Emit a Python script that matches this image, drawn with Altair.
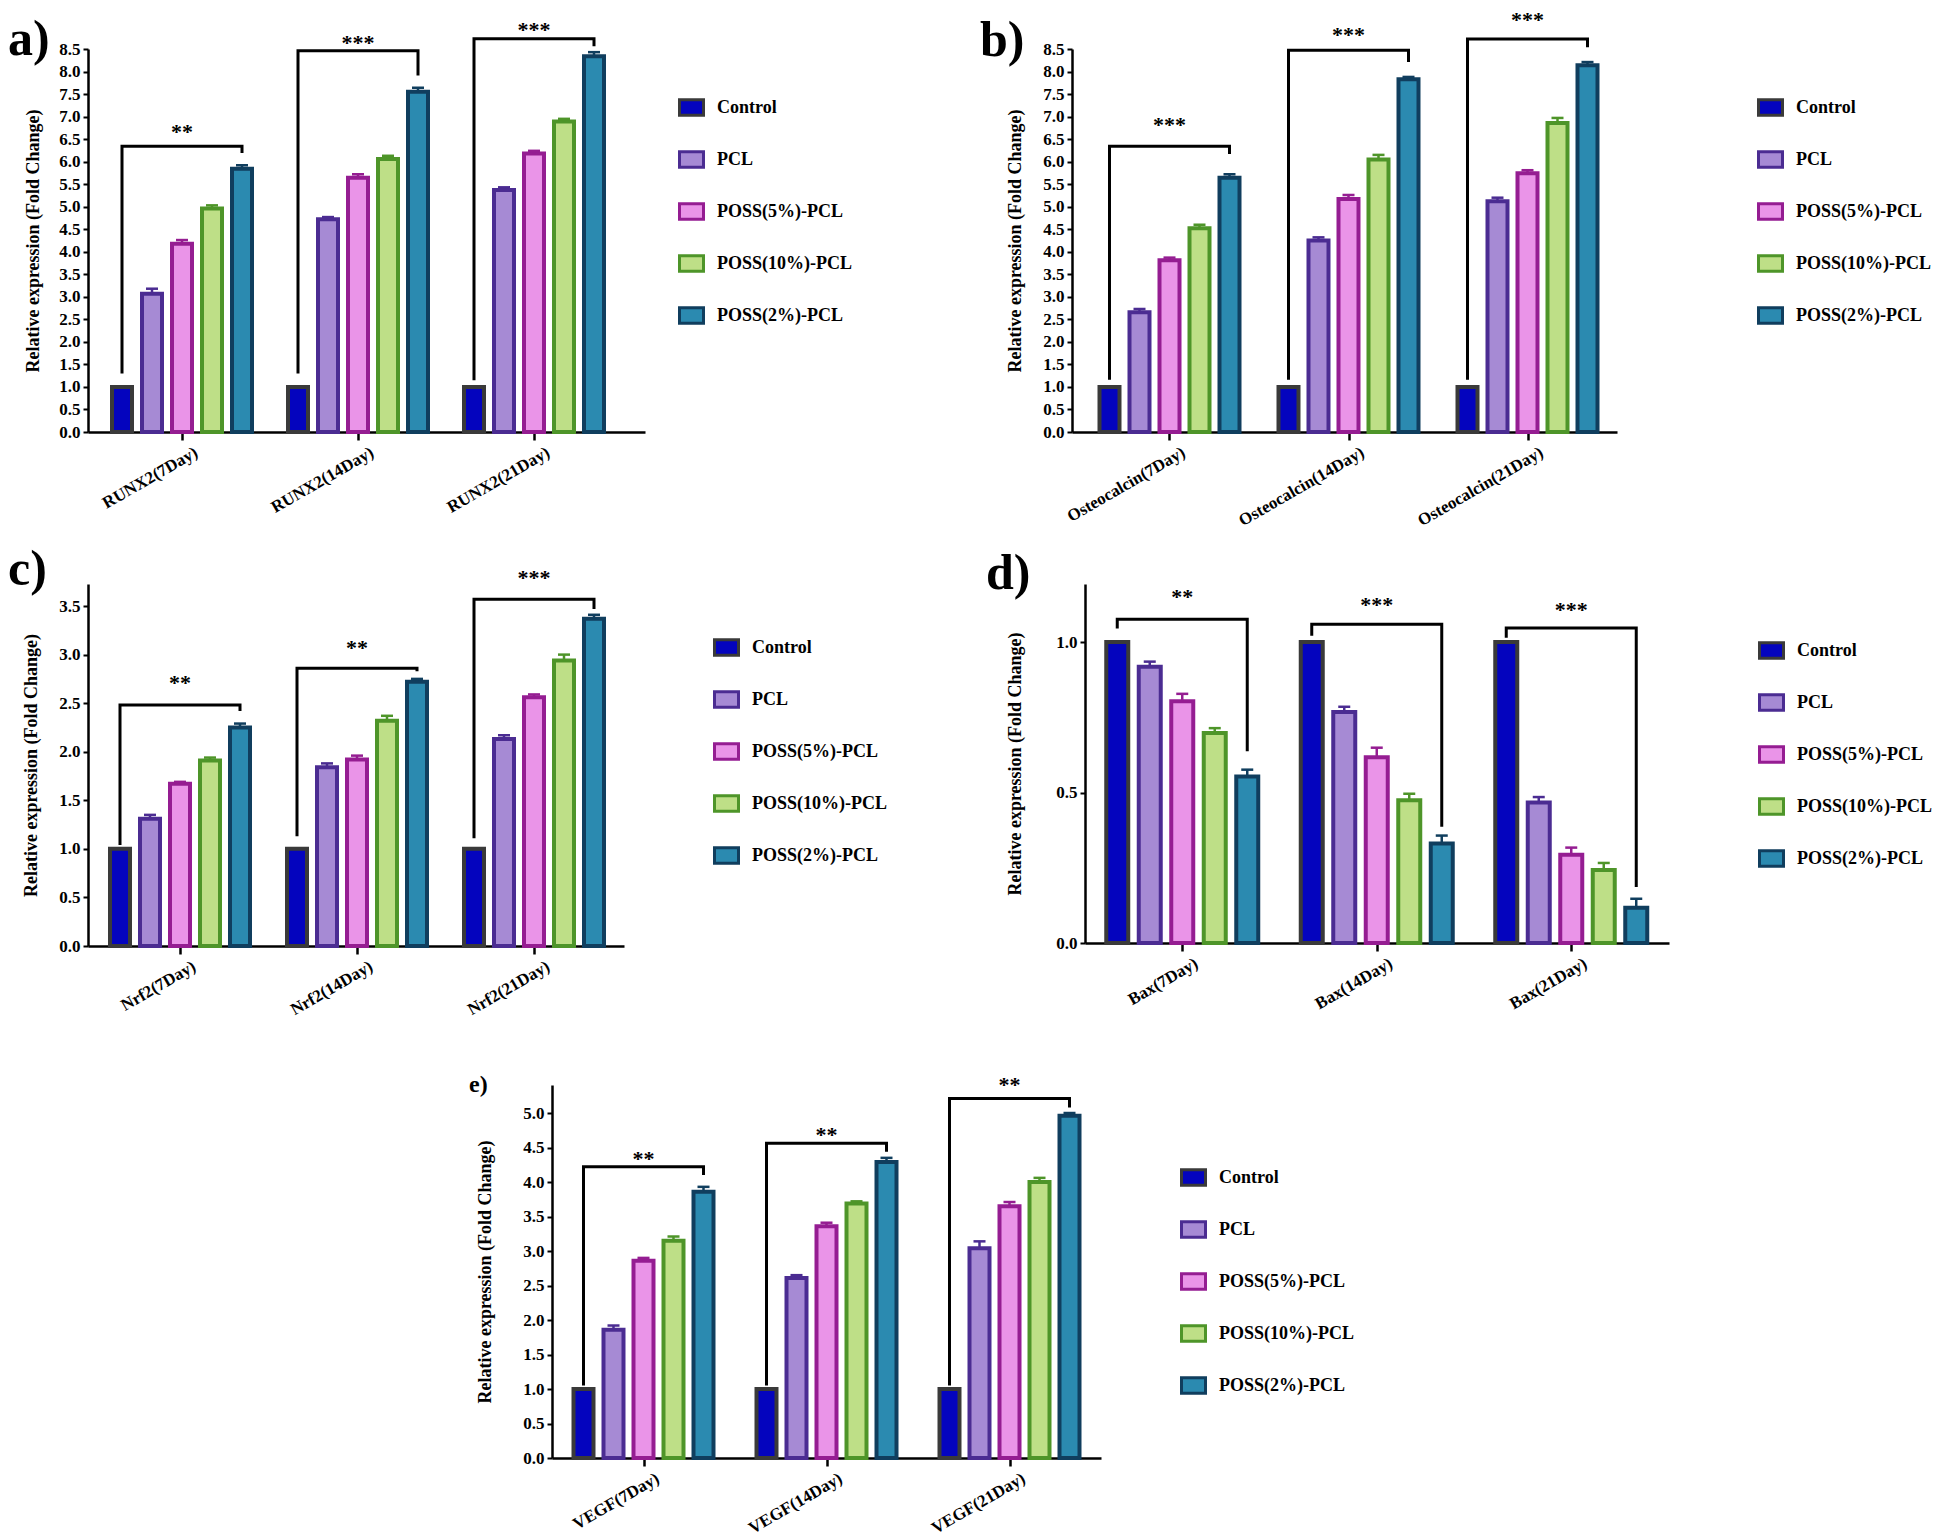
import altair as alt
import pandas as pd

FONT = "Liberation Serif"

groups = ["Control", "PCL", "POSS(5%)-PCL", "POSS(10%)-PCL", "POSS(2%)-PCL"]
fill_colors = ["#0404BE", "#A68AD4", "#EA94E8", "#BEDF87", "#2B8AB0"]
stroke_colors = ["#3A3A3A", "#4B2C92", "#951D92", "#4E9529", "#103E5E"]
y_title = "Relative expression (Fold Change)"

# a) RUNX2
runx2_days = ["RUNX2(7Day)", "RUNX2(14Day)", "RUNX2(21Day)"]
runx2_mean = [[1.0, 3.07, 4.18, 4.96, 5.84], [1.0, 4.72, 5.64, 6.06, 7.55], [1.0, 5.37, 6.18, 6.89, 8.34]]
runx2_err = [[0, 0.11, 0.08, 0.07, 0.08], [0, 0.05, 0.08, 0.07, 0.09], [0, 0.06, 0.06, 0.06, 0.09]]
runx2_br_low = [1.30, 1.30, 1.15]
runx2_br_top = [6.34, 8.46, 8.73]
runx2_br_end = [6.19, 7.91, 8.56]
runx2_stars = ["**", "***", "***"]
runx2_star_y = [6.66, 8.63, 8.93]

# b) Osteocalcin
ocn_days = ["Osteocalcin(7Day)", "Osteocalcin(14Day)", "Osteocalcin(21Day)"]
ocn_mean = [[1.0, 2.66, 3.81, 4.52, 5.64], [1.0, 4.25, 5.17, 6.05, 7.83], [1.0, 5.12, 5.74, 6.86, 8.14]]
ocn_err = [[0, 0.07, 0.06, 0.08, 0.08], [0, 0.07, 0.09, 0.10, 0.05], [0, 0.08, 0.07, 0.11, 0.07]]
ocn_br_low = [1.16, 1.16, 1.16]
ocn_br_top = [6.34, 8.47, 8.72]
ocn_br_end = [6.17, 8.21, 8.54]
ocn_stars = ["***", "***", "***"]
ocn_star_y = [6.82, 8.81, 9.15]

# c) Nrf2
nrf2_days = ["Nrf2(7Day)", "Nrf2(14Day)", "Nrf2(21Day)"]
nrf2_mean = [[1.0, 1.31, 1.67, 1.91, 2.25], [1.0, 1.84, 1.92, 2.32, 2.72], [1.0, 2.13, 2.56, 2.94, 3.37]]
nrf2_err = [[0, 0.04, 0.02, 0.03, 0.04], [0, 0.04, 0.04, 0.05, 0.03], [0, 0.04, 0.03, 0.06, 0.04]]
nrf2_br_low = [1.04, 1.13, 1.11]
nrf2_br_top = [2.48, 2.86, 3.57]
nrf2_br_end = [2.42, 2.83, 3.47]
nrf2_stars = ["**", "**", "***"]
nrf2_star_y = [2.71, 3.07, 3.79]

# d) Bax
bax_days = ["Bax(7Day)", "Bax(14Day)", "Bax(21Day)"]
bax_mean = [[1.0, 0.918, 0.803, 0.698, 0.553], [1.0, 0.768, 0.617, 0.474, 0.331], [1.0, 0.467, 0.293, 0.243, 0.117]]
bax_err = [[0, 0.017, 0.025, 0.016, 0.023], [0, 0.017, 0.032, 0.022, 0.026], [0, 0.018, 0.024, 0.023, 0.030]]
bax_br_low = [1.045, 1.021, 1.014]
bax_br_top = [1.076, 1.059, 1.047]
bax_br_end = [0.637, 0.386, 0.186]
bax_stars = ["**", "***", "***"]
bax_star_y = [1.151, 1.122, 1.108]

# e) VEGF
vegf_days = ["VEGF(7Day)", "VEGF(14Day)", "VEGF(21Day)"]
vegf_mean = [[1.0, 1.86, 2.86, 3.15, 3.86], [1.0, 2.61, 3.36, 3.69, 4.29], [1.0, 3.04, 3.65, 4.00, 4.96]]
vegf_err = [[0, 0.06, 0.04, 0.06, 0.07], [0, 0.04, 0.05, 0.03, 0.06], [0, 0.10, 0.06, 0.06, 0.04]]
vegf_br_low = [1.05, 1.05, 1.05]
vegf_br_top = [4.22, 4.56, 5.21]
vegf_br_end = [4.10, 4.44, 5.08]
vegf_stars = ["**", "**", "**"]
vegf_star_y = [4.34, 4.68, 5.41]


def make_panel(letter, days, mean, err, br_low, br_top, br_end, stars, star_y,
               W, H, S, lpad, bstep, bw, ymax, ytop, tpad, leg_x, leg_y,
               lab_dx, lab_off, lab_size=50):
    dmin = -0.5 - lpad / S
    dmax = dmin + W / S
    half = bw / 2.0 / S
    cap = 6.0 / S
    off = bstep / S

    rows = []
    for i, d in enumerate(days):
        for j, g in enumerate(groups):
            c = i + (j - 2) * off
            rows.append(dict(day=d, group=g, x0=c - half, x1=c + half, xc=c,
                             cl=c - cap, cr=c + cap, v=mean[i][j],
                             top=mean[i][j] + err[i][j], e=err[i][j], base=0.0))
    df = pd.DataFrame(rows)

    brows = []
    for i, d in enumerate(days):
        xl = i - 2 * off
        xr = i + 2 * off
        pts = [(xl, br_low[i]), (xl, br_top[i]), (xr, br_top[i]), (xr, br_end[i])]
        for k, (px, py) in enumerate(pts):
            brows.append(dict(day=d, k=k, bx=px, by=py))
    bdf = pd.DataFrame(brows)

    sdf = pd.DataFrame(dict(day=days, sx=list(range(len(days))), sy=star_y, star=stars))

    n_ticks = int(round(ytop / 0.5)) + 1
    yticks = [round(k * 0.5, 1) for k in range(n_ticks)]
    label_expr = "[" + ",".join("'" + d + "'" for d in days) + "][datum.value]"

    xs = alt.Scale(domain=[dmin, dmax], nice=False, zero=False)
    ys = alt.Scale(domain=[0, ymax], nice=False, zero=True)
    xax = alt.Axis(values=[0, 1, 2], labelExpr=label_expr, title=None, grid=False,
                   tickSize=8, tickWidth=2.5, tickColor="black", domainColor="black",
                   domainWidth=2.5, labelAngle=-30, labelFont=FONT, labelFontSize=17,
                   labelFontWeight="bold", labelColor="black", labelPadding=4,
                   labelOffset=10, labelOverlap=False, labelFlush=False)
    yax = alt.Axis(values=yticks, format=".1f", title=y_title, grid=False,
                   tickSize=5, tickWidth=2, tickColor="black", domainColor="black",
                   domainWidth=2.5, labelFont=FONT, labelFontSize=17,
                   labelFontWeight="bold", labelColor="black", labelPadding=3,
                   labelFlush=False, labelOverlap=False,
                   titleFont=FONT, titleFontSize=18, titleFontWeight="bold",
                   titleColor="black", titlePadding=tpad)
    leg = alt.Legend(title=None, orient="none", legendX=leg_x, legendY=leg_y,
                     direction="vertical", symbolType="M-1,-0.65H1V0.65H-1Z",
                     symbolSize=576, symbolStrokeWidth=3, labelFont=FONT,
                     labelFontSize=18, labelFontWeight="bold", labelColor="black",
                     rowPadding=23, labelOffset=12, padding=0)
    fill_enc = alt.Fill("group:N", scale=alt.Scale(domain=groups, range=fill_colors), legend=leg)
    stroke_enc = alt.Stroke("group:N", scale=alt.Scale(domain=groups, range=stroke_colors), legend=leg)

    def X(f):
        return alt.X(f, scale=xs, axis=xax)

    def Y(f):
        return alt.Y(f, scale=ys, axis=yax)

    bars = alt.Chart(df).mark_rect(strokeWidth=4).encode(
        x=X("x0:Q"), x2="x1:Q", y=Y("v:Q"), y2="base:Q", fill=fill_enc, stroke=stroke_enc)
    err_v = alt.Chart(df).transform_filter("datum.e > 0").mark_rule(strokeWidth=2.5).encode(
        x=X("xc:Q"), y=Y("v:Q"), y2="top:Q", stroke=stroke_enc)
    err_c = alt.Chart(df).transform_filter("datum.e > 0").mark_rule(strokeWidth=2.5).encode(
        x=X("cl:Q"), x2="cr:Q", y=Y("top:Q"), stroke=stroke_enc)
    brk = alt.Chart(bdf).mark_line(color="black", strokeWidth=3, strokeJoin="miter").encode(
        x=X("bx:Q"), y=Y("by:Q"), order="k:Q", detail="day:N")
    st = alt.Chart(sdf).mark_text(font=FONT, fontSize=22, fontWeight="bold",
                                   baseline="middle", color="black").encode(
        x=X("sx:Q"), y=Y("sy:Q"), text="star:N")

    return alt.layer(bars, err_v, err_c, brk, st).properties(
        width=W, height=H,
        title=alt.TitleParams(letter, anchor="start", frame="group", orient="top",
                              font=FONT, fontSize=lab_size, fontWeight="bold",
                              color="black", baseline="alphabetic", offset=lab_off,
                              dx=lab_dx))


pa = make_panel("a)", runx2_days, runx2_mean, runx2_err, runx2_br_low, runx2_br_top,
                runx2_br_end, runx2_stars, runx2_star_y,
                W=557, H=383, S=176, lpad=6, bstep=30, bw=20, ymax=8.5, ytop=8.5,
                tpad=16, leg_x=590, leg_y=45, lab_dx=-80, lab_off=-86)
pb = make_panel("b)", ocn_days, ocn_mean, ocn_err, ocn_br_low, ocn_br_top,
                ocn_br_end, ocn_stars, ocn_star_y,
                W=545, H=383, S=179, lpad=8, bstep=30, bw=20, ymax=8.5, ytop=8.5,
                tpad=18, leg_x=685, leg_y=45, lab_dx=-92, lab_off=-97)
pc = make_panel("c)", nrf2_days, nrf2_mean, nrf2_err, nrf2_br_low, nrf2_br_top,
                nrf2_br_end, nrf2_stars, nrf2_star_y,
                W=536, H=362, S=177, lpad=3.5, bstep=30, bw=20, ymax=3.727, ytop=3.5,
                tpad=18, leg_x=625, leg_y=50, lab_dx=-80, lab_off=-68)
pd_ = make_panel("d)", bax_days, bax_mean, bax_err, bax_br_low, bax_br_top,
                 bax_br_end, bax_stars, bax_star_y,
                 W=584, H=359, S=194.5, lpad=0, bstep=32.5, bw=22, ymax=1.193, ytop=1.0,
                 tpad=31, leg_x=673, leg_y=53, lab_dx=-99, lab_off=-55)
pe = make_panel("e)", vegf_days, vegf_mean, vegf_err, vegf_br_low, vegf_br_top,
                vegf_br_end, vegf_stars, vegf_star_y,
                W=549, H=373, S=183, lpad=0, bstep=30, bw=20, ymax=5.406, ytop=5.0,
                tpad=28, leg_x=628, leg_y=79, lab_dx=-83, lab_off=-42, lab_size=24)

spacer = alt.Chart(pd.DataFrame({"v": [0]})).mark_point(opacity=0).encode(
    x=alt.X("v:Q", axis=None), y=alt.Y("v:Q", axis=None)).properties(width=454, height=10)


def indep(c):
    return c.resolve_scale(x="independent", y="independent", fill="independent",
                           stroke="independent").resolve_legend(fill="independent",
                                                                stroke="independent")


# with flush bounds, nested rows count as zero-size, so the spacing is top-to-top
row1 = indep(alt.hconcat(pa, pb, spacing=427, bounds="flush"))
row2 = indep(alt.hconcat(pc, pd_, spacing=461, bounds="flush"))
row3 = indep(alt.hconcat(spacer, pe, spacing=10, bounds="flush"))
top = indep(alt.vconcat(row1, row2, spacing=535, bounds="flush"))
chart = indep(alt.vconcat(top, row3, spacing=1036, bounds="flush"))
chart = chart.properties(padding=0, background="white").configure_view(stroke=None)

chart.save("out.html", embed_options={"renderer": "svg", "actions": False})
